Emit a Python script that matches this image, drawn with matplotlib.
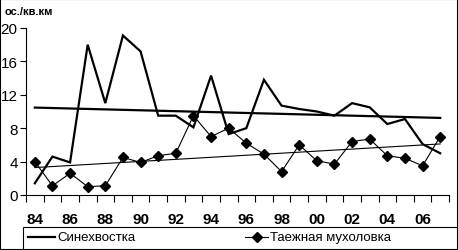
import numpy as np
import matplotlib as mpl
mpl.use('Agg')
import matplotlib.pyplot as plt
from matplotlib.patches import Rectangle

plt.rcParams['font.family'] = ['Liberation Sans', 'DejaVu Sans']

# years 1984..2007
years = list(range(1984, 2008))
year_labels = ['84', '86', '88', '90', '92', '94', '96', '98', '00', '02', '04', '06']
sinekhvostka = [1.4, 4.6, 3.9, 18.0, 11.0, 19.1, 17.2, 9.5, 9.5, 8.1, 14.3, 7.3,
                8.0, 13.8, 10.7, 10.3, 10.0, 9.5, 11.0, 10.5, 8.5, 9.1, 6.1, 5.0]
mukholovka = [4.0, 1.1, 2.6, 1.0, 1.1, 4.5, 3.9, 4.7, 5.0, 9.5, 7.0, 8.0,
              6.2, 4.9, 2.8, 6.0, 4.1, 3.7, 6.4, 6.7, 4.7, 4.4, 3.5, 7.0]

W, H = 458, 251
fig = plt.figure(figsize=(W/100, H/100), dpi=100)
ax = fig.add_axes([26/W, 1-196/H, (449-26)/W, (196-29)/H])

x = np.arange(len(years))
ax.plot(x, sinekhvostka, color='black', lw=1.6, solid_joinstyle='miter')
ax.plot(x, mukholovka, color='black', lw=0.8, marker='D', markersize=5)

# linear trend lines (as Excel)
for s, lw in ((sinekhvostka, 1.6), (mukholovka, 0.8)):
    k, b = np.polyfit(x, s, 1)
    ax.plot(x, k*x + b, color='black', lw=lw)

ax.set_xlim(-0.5, len(years)-0.5)
ax.set_ylim(0, 20)
ax.set_yticks([0, 4, 8, 12, 16, 20])
ax.set_xticks(np.arange(-0.5, len(years), 1.0))
ax.set_xticklabels([])
ax.set_xticks(np.arange(0, len(years), 2), minor=True)
ax.set_xticklabels(year_labels, minor=True, fontsize=11, fontweight='bold')
ax.tick_params(axis='x', which='major', direction='out', length=5, width=0.8)
ax.tick_params(axis='x', which='minor', length=0, pad=12)
ax.tick_params(axis='y', direction='out', length=4, width=0.8, labelsize=11, pad=2)
for sp in ['top', 'right']:
    ax.spines[sp].set_visible(False)
for sp in ['left', 'bottom']:
    ax.spines[sp].set_linewidth(0.8)

fig.text(5/W, 1-12/H, 'ос./кв.км', fontsize=8, fontweight='bold', va='center', ha='left')

# legend box across the bottom
fig.patches.append(Rectangle((23/W, -0.05), (W-23)/W, (251-228)/H + 0.05,
                             transform=fig.transFigure, fill=False, lw=0.8, ec='black'))
ly = 1 - 238/H
fig.lines.append(plt.Line2D([28/W, 55/W], [ly, ly], transform=fig.transFigure, color='black', lw=1.6))
fig.text(57/W, ly, 'Синехвостка', fontsize=9.5, va='center', ha='left')
fig.lines.append(plt.Line2D([245/W, 268/W], [ly, ly], transform=fig.transFigure, color='black', lw=0.8))
fig.lines.append(plt.Line2D([256.5/W], [ly], transform=fig.transFigure, color='black', marker='D', markersize=5))
fig.text(270/W, ly, 'Таежная мухоловка', fontsize=9.5, va='center', ha='left')

# outer border
fig.patches.append(Rectangle((0, 0), 1, 1, transform=fig.transFigure, fill=False, lw=1.5, ec='black'))

fig.savefig('out.png', dpi=100)
